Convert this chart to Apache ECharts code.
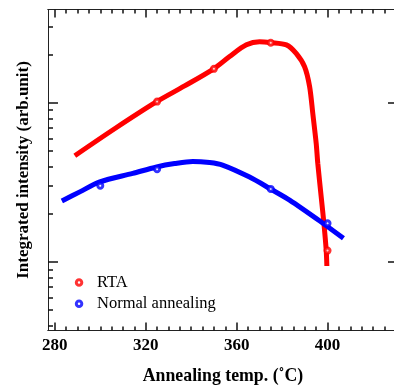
<!DOCTYPE html>
<html>
<head>
<meta charset="utf-8">
<script src="https://cdn.jsdelivr.net/npm/echarts@6/dist/echarts.min.js"></script>
<style>html,body{margin:0;padding:0;background:#fff}#c{width:394px;height:387px}</style>
</head>
<body>
<div id="c"></div>
<script>
// ---- data ----
const rtaCurveT = [288.8, 306.8, 324.8, 337.1, 349.9, 356.9, 364.3, 370.1, 374.9, 381.9, 386.2, 389.9, 392.1, 393.5, 395.0, 395.7, 397.2, 398.4, 399.4, 399.7];
const rtaCurveV = [4.66, 6.96, 10.19, 12.8, 16.4, 19.6, 23.2, 24.3, 24.0, 23.2, 20.5, 16.9, 12.7, 8.61, 5.58, 4.18, 2.57, 1.75, 1.19, 0.944];
const normCurveT = [283.1, 291.0, 299.8, 314.3, 324.8, 332.7, 340.7, 348.1, 353.8, 365.7, 374.9, 383.3, 397.8, 407.0];
const normCurveV = [2.42, 2.76, 3.19, 3.61, 3.96, 4.16, 4.29, 4.22, 4.07, 3.42, 2.88, 2.45, 1.76, 1.41];
const rtaT = [325, 350, 375, 400];
const rtaV = [10.2, 16.4, 23.9, 1.18];
const normT = [300, 325, 375, 400];
const normV = [3.02, 3.83, 2.88, 1.75];
const xMajorTicks = [280, 320, 360, 400];
const xTickLabels = [280, 320, 360, 400];
const xMinorTicks = [285, 290, 295, 300, 305, 310, 315, 325, 330, 335, 340, 345, 350, 355, 365, 370, 375, 380, 385, 390, 395, 405, 410, 415, 420, 425, 430];
const yMajorTicks = [1, 10];
const yMinorTicks = [0.4, 0.5, 0.6, 0.7, 0.8, 0.9, 2, 3, 4, 5, 6, 7, 8, 9, 20, 30];
const seriesNames = ['RTA', 'Normal annealing'];

const zip = (a, b) => a.map((v, i) => [v, b[i]]);
const serif = 'Liberation Serif, Times New Roman, serif';
const XMIN = 277, XMAX = 431, YMIN = 0.371, YMAX = 38.7;
const axisCol = '#222';
const tickCol = '#111';
const gridBox = { left: 48, top: 9.5, width: 350, height: 321, outerBoundsMode: 'none' };

function xAx(gi, pos, ticks, len, labels) {
  return {
    gridIndex: gi, type: 'value', position: pos, min: XMIN, max: XMAX,
    axisLine: { show: true, lineStyle: { color: axisCol, width: 1 } },
    axisTick: { show: true, inside: true, length: len, customValues: ticks, lineStyle: { color: tickCol, width: 1.5 } },
    axisLabel: { show: !!labels, customValues: labels || ticks, margin: 7, color: '#000', fontFamily: serif, fontWeight: 'bold', fontSize: 17 },
    splitLine: { show: false }
  };
}
function yAx(gi, pos, ticks, len) {
  return {
    gridIndex: gi, type: 'log', position: pos, min: YMIN, max: YMAX,
    axisLine: { show: true, lineStyle: { color: axisCol, width: 1 } },
    axisTick: { show: true, inside: true, length: len, customValues: ticks, lineStyle: { color: tickCol, width: 1.5 } },
    axisLabel: { show: false, customValues: ticks },
    splitLine: { show: false }
  };
}

const xAxes = [
  Object.assign(xAx(0, 'bottom', xMajorTicks, 8, xTickLabels), {
    name: 'Annealing temp. (\u02DAC)', nameLocation: 'middle', nameGap: 37,
    nameTextStyle: { color: '#000', fontFamily: serif, fontWeight: 'bold', fontSize: 17.8 }
  }),
  xAx(1, 'bottom', xMinorTicks, 4, null),
  xAx(2, 'top', xMajorTicks, 8, null),
  xAx(3, 'top', xMinorTicks, 4, null)
];
const yAxes = [
  Object.assign(yAx(0, 'left', yMajorTicks, 10), {
    name: 'Integrated intensity (arb.unit)', nameLocation: 'middle', nameGap: 16, nameRotate: 90,
    nameTextStyle: { color: '#000', fontFamily: serif, fontWeight: 'bold', fontSize: 17 }
  }),
  yAx(1, 'left', yMinorTicks, 5),
  yAx(2, 'right', yMajorTicks, 10),
  yAx(3, 'right', yMajorTicks, 10)
];

const chart = echarts.init(document.getElementById('c'));
chart.setOption({
  animation: false,
  backgroundColor: '#fff',
  grid: [gridBox, gridBox, gridBox, gridBox],
  xAxis: xAxes,
  yAxis: yAxes,
  legend: {
    orient: 'vertical', left: 69.8, top: 269, data: seriesNames,
    itemWidth: 26, itemHeight: 5.5, itemGap: 4.2,
    itemStyle: { borderWidth: 3 },
    textStyle: { fontFamily: serif, fontSize: 16.5, color: '#000', lineHeight: 16 }
  },
  series: [
    { name: 'rtaFit', type: 'line', data: zip(rtaCurveT, rtaCurveV), smooth: 0.3, showSymbol: false, symbol: 'none',
      lineStyle: { color: '#ff0000', width: 5 }, z: 2 },
    { name: 'normFit', type: 'line', data: zip(normCurveT, normCurveV), smooth: 0.3, showSymbol: false, symbol: 'none',
      lineStyle: { color: '#0000ff', width: 5 }, z: 3 },
    { name: seriesNames[0], type: 'scatter', data: zip(rtaT, rtaV), symbol: 'circle', symbolSize: 5,
      itemStyle: { color: '#fff', borderColor: '#ff0000', borderWidth: 3 }, z: 4 },
    { name: seriesNames[1], type: 'scatter', data: zip(normT, normV), symbol: 'circle', symbolSize: 5,
      itemStyle: { color: '#fff', borderColor: '#0000ff', borderWidth: 3 }, z: 5 }
  ]
});
</script>
</body>
</html>
